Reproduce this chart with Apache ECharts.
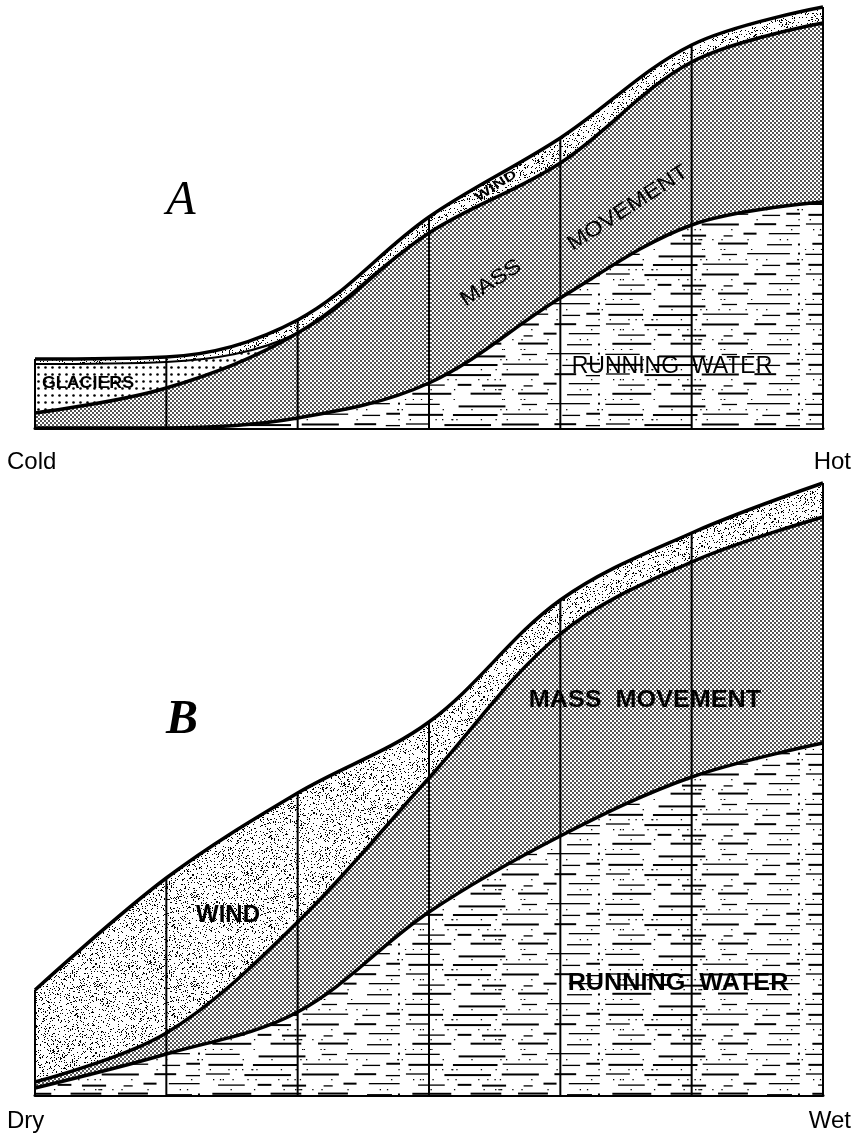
<!doctype html>
<html lang="en">
<head>
  <meta charset="UTF-8">
  <script src="https://cdn.jsdelivr.net/npm/echarts@6/dist/echarts.min.js"></script>
  <title>Geomorphic processes vs climate</title>
  <style type="text/css">
    html, body {
      margin: 0;
      padding: 0;
      background-color: #ffffff;
    }

    #canvas {
      width: 859px;
      height: 1142px;
    }
  </style>
</head>

<body>
<div id="canvas"></div>

<script type="text/javascript">
  // seven vertical sections across each diagram
  const sections = ['1', '2', '3', '4', '5', '6', '7']

  // A: cold -> hot, thickness of each layer from the base up
  const runningWaterA = [0, 0, 10, 45, 130, 203, 226]
  const massMovementA = [15, 40, 85, 150, 135, 163, 179]
  const glaciersA = [49, 26, 0, 0, 0, 0, 0]
  const windA = [5, 5, 13, 16, 25, 17, 16]

  // B: dry -> wet
  const runningWaterB = [7, 41, 83, 183, 259, 318, 352]
  const massMovementB = [6, 21, 90, 134, 202, 215, 226]
  const windB = [92, 155, 129, 56, 34, 29, 34]

  const canvas = document.getElementById('canvas')
  const chart = echarts.init(canvas, null, { renderer: 'canvas' })

  // cheap deterministic noise for the stipple textures
  const noise = (x, y) => {
    const s = Math.sin(x * 12.9898 + y * 78.233) * 43758.5453
    return s - Math.floor(s)
  }

  const tile = (w, h, draw) => {
    const c = document.createElement('canvas')
    c.width = w
    c.height = h
    const ctx = c.getContext('2d')
    ctx.fillStyle = '#ffffff'
    ctx.fillRect(0, 0, w, h)
    ctx.fillStyle = '#000000'
    draw(ctx, w, h)
    return { image: c, repeat: 'repeat' }
  }

  const dots = (ctx, pts, r) => {
    pts.forEach(p => {
      ctx.beginPath()
      ctx.arc(p[0], p[1], r, 0, Math.PI * 2)
      ctx.fill()
    })
  }

  // dense stipple
  const massFill = tile(4, 4, ctx => dots(ctx, [[1, 1], [3, 3]], 0.9))

  // light, fine irregular stipple
  const windFill = tile(97, 89, (ctx, w, h) => {
    for (let y = 0; y < h; y++) {
      for (let x = 0; x < w; x++) {
        if (noise(x, y) < 0.13) ctx.fillRect(x, y, 1, 1)
      }
    }
  })

  // coarse dots
  const glacierFill = tile(7, 7, ctx => dots(ctx, [[3.5, 3.5]], 1.3))

  // broken horizontal dashes
  const waterFill = tile(200, 50, (ctx, w, h) => {
    for (let r = 0; r < 5; r++) {
      let x = noise(r, 3) * 20
      const y = 4 + r * 10
      while (x < w) {
        const len = 8 + noise(x, r) * 40
        const dy = (noise(r, x) - 0.5) * 3
        const th = noise(x + 1, r + 2) < 0.5 ? 2 : 1.3
        ctx.fillRect(x, y + dy, Math.min(len, w - x), th)
        x += len + 4 + noise(x, r + 7) * 16
      }
      for (let k = 0; k < 12; k++) {
        ctx.fillRect(noise(k, r + 11) * w, y + 5, 1.3, 1.3)
      }
    }
  })

  const layer = (data, gi, stack, fill, width) => ({
    type: 'line',
    xAxisIndex: gi,
    yAxisIndex: gi,
    stack: stack,
    data: data,
    smooth: 0.35,
    symbol: 'none',
    silent: true,
    lineStyle: { color: '#000000', width: width || 3.5 },
    areaStyle: { color: fill, opacity: 1 },
    z: 2
  })

  const totals = arrs => arrs[0].map((_, i) => arrs.reduce((s, a) => s + a[i], 0))

  const dividers = (data, gi) => ({
    type: 'bar',
    xAxisIndex: gi,
    yAxisIndex: gi,
    data: data,
    barWidth: 2,
    clip: false,
    silent: true,
    itemStyle: { color: '#000000' },
    z: 3
  })

  const txt = (text, x, y, font, opt) => {
    opt = opt || {}
    return {
      type: 'text',
      x: x,
      y: y,
      rotation: (opt.rot || 0) * Math.PI / 180,
      scaleX: opt.sx || 1,
      z: 10,
      silent: true,
      style: {
        text: text,
        font: font,
        fill: '#000000',
        align: opt.align || 'center',
        verticalAlign: 'middle',
        textAlign: opt.align || 'center',
        textVerticalAlign: 'middle'
      }
    }
  }

  const sans = '"Liberation Sans", Arial, sans-serif'
  const serif = '"Liberation Serif", "DejaVu Serif", serif'

  const xAxis = gi => ({
    gridIndex: gi,
    type: 'category',
    data: sections,
    boundaryGap: false,
    axisLine: { lineStyle: { color: '#000000', width: 3 } },
    axisTick: { show: false },
    axisLabel: { show: false },
    splitLine: { show: false }
  })

  chart.setOption({
    animation: false,
    backgroundColor: '#ffffff',
    grid: [
      { left: 35, right: 36, top: 0, height: 428 },
      { left: 35, right: 36, top: 467, height: 628 }
    ],
    xAxis: [xAxis(0), xAxis(1)],
    yAxis: [
      { gridIndex: 0, type: 'value', min: 0, max: 428, show: false },
      { gridIndex: 1, type: 'value', min: 0, max: 628, show: false }
    ],
    series: [
      layer(runningWaterA, 0, 'a', waterFill),
      layer(massMovementA, 0, 'a', massFill),
      layer(glaciersA, 0, 'a', glacierFill, 2),
      layer(windA, 0, 'a', windFill),
      dividers(totals([runningWaterA, massMovementA, glaciersA, windA]), 0),

      layer(runningWaterB, 1, 'b', waterFill),
      layer(massMovementB, 1, 'b', massFill),
      layer(windB, 1, 'b', windFill),
      dividers(totals([runningWaterB, massMovementB, windB]), 1)
    ],
    graphic: [
      txt('A', 181, 201, 'italic 48px ' + serif),
      txt('GLACIERS', 88, 383, 'bold 17px ' + sans, { sx: 1.05 }),
      txt('WIND', 496, 186, 'bold 13px ' + sans, { rot: 33, sx: 1.35 }),
      txt('MASS', 491, 283, '21px ' + sans, { rot: 33, sx: 1.15 }),
      txt('MOVEMENT', 628, 208, '21px ' + sans, { rot: 33, sx: 1.15 }),
      txt('RUNNING  WATER', 672, 367, '23px ' + sans),
      txt('Cold', 7, 462, '24px ' + sans, { align: 'left' }),
      txt('Hot', 851, 462, '24px ' + sans, { align: 'right' }),

      txt('B', 182, 721, 'italic bold 48px ' + serif),
      txt('WIND', 228, 915, 'bold 24px ' + sans),
      txt('MASS  MOVEMENT', 645, 700, 'bold 24px ' + sans, { sx: 1.05 }),
      txt('RUNNING  WATER', 678, 983, 'bold 24px ' + sans, { sx: 1.05 }),
      txt('Dry', 7, 1121, '24px ' + sans, { align: 'left' }),
      txt('Wet', 851, 1121, '24px ' + sans, { align: 'right' })
    ]
  })
</script>
</body>
</html>
